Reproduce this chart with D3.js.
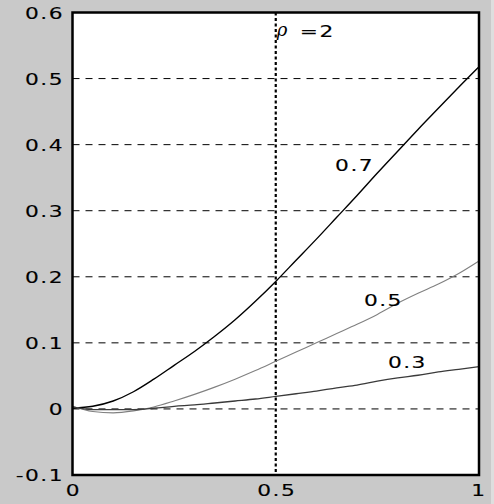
<!DOCTYPE html>
<html>
<head>
<meta charset="utf-8">
<script src="https://cdn.jsdelivr.net/npm/d3@7"></script>
<style>
  body { margin: 0; background: #c9c9c9; }
  svg { display: block; }
</style>
</head>
<body>
<div id="vis"></div>
<script>
const W = 494;
const H = 504;

// data
const xs = [0, 0.05, 0.1, 0.15, 0.2, 0.25, 0.3, 0.35, 0.4, 0.45, 0.5,
            0.55, 0.6, 0.65, 0.7, 0.75, 0.8, 0.85, 0.9, 0.95, 1];
const rho07 = [0.001, 0.004, 0.012, 0.026, 0.045, 0.066, 0.087, 0.11, 0.135, 0.163, 0.193,
               0.225, 0.257, 0.29, 0.323, 0.357, 0.39, 0.423, 0.455, 0.487, 0.518];
const rho05 = [0.004, -0.004, -0.006, -0.003, 0.003, 0.012, 0.022, 0.033, 0.045, 0.058, 0.072,
               0.086, 0.1, 0.114, 0.128, 0.143, 0.16, 0.175, 0.189, 0.205, 0.224];
const rho03 = [0.003, -0.001, -0.001, -0.001, 0.001, 0.004, 0.006, 0.009, 0.012, 0.015, 0.019,
               0.023, 0.027, 0.032, 0.036, 0.042, 0.047, 0.051, 0.056, 0.06, 0.064];
const seriesNames = ["0.7", "0.5", "0.3"];
const labelAt = [[0.646, 0.369], [0.717, 0.165], [0.776, 0.071]]; // [x, y] in data units

const yTicks = [-0.1, 0, 0.1, 0.2, 0.3, 0.4, 0.5, 0.6];
const yTickLabels = ["-0.1", "0", "0.1", "0.2", "0.3", "0.4", "0.5", "0.6"];
const xTicks = [0, 0.5, 1];
const xTickLabels = ["0", "0.5", "1"];
const rhoLine = 0.5;

const x = d3.scaleLinear().domain([0, 1]).range([72.5, 479]);
const y = d3.scaleLinear().domain([-0.1, 0.6]).range([475, 12.5]);

const svg = d3.select("#vis").append("svg").attr("width", W).attr("height", H);

svg.append("rect").attr("width", W).attr("height", H).attr("fill", "#c9c9c9");
svg.append("rect").attr("x", 491).attr("width", 3).attr("height", H).attr("fill", "#dedede");

// plot area
svg.append("rect")
  .attr("x", x(0)).attr("y", y(0.6))
  .attr("width", x(1) - x(0)).attr("height", y(-0.1) - y(0.6))
  .attr("fill", "#fff");

// dashed grid
svg.selectAll("line.grid")
  .data(yTicks.filter(d => d > -0.1 && d < 0.6))
  .join("line")
  .attr("class", "grid")
  .attr("x1", x(0)).attr("x2", x(1))
  .attr("y1", d => y(d)).attr("y2", d => y(d))
  .attr("stroke", "#000").attr("stroke-width", 1)
  .attr("stroke-dasharray", "7,6");

// dotted line at x = 0.5
svg.append("line")
  .attr("x1", x(rhoLine)).attr("x2", x(rhoLine))
  .attr("y1", y(0.6)).attr("y2", y(-0.1))
  .attr("stroke", "#000").attr("stroke-width", 2.2)
  .attr("stroke-dasharray", "3,2.5");

// curves
const series = [
  { name: seriesNames[0], values: rho07, color: "#000", width: 1.4 },
  { name: seriesNames[1], values: rho05, color: "#808080", width: 1.1 },
  { name: seriesNames[2], values: rho03, color: "#3a3a3a", width: 1.3 }
];
const line = d3.line()
  .x((d, i) => x(xs[i]))
  .y(d => y(d))
  .curve(d3.curveMonotoneX);

svg.selectAll("path.curve")
  .data(series)
  .join("path")
  .attr("class", "curve")
  .attr("d", d => line(d.values))
  .attr("fill", "none")
  .attr("stroke", d => d.color)
  .attr("stroke-width", d => d.width);

// frame
svg.append("rect")
  .attr("x", x(0)).attr("y", y(0.6))
  .attr("width", x(1) - x(0)).attr("height", y(-0.1) - y(0.6))
  .attr("fill", "none").attr("stroke", "#000").attr("stroke-width", 2.5);

// wide bitmap-like text
function wideText(px, py, str, anchor) {
  svg.append("g")
    .attr("transform", "translate(" + px + "," + py + ") scale(1.45,1)")
    .append("text")
    .attr("text-anchor", anchor)
    .attr("font-family", "DejaVu Sans")
    .attr("font-size", "15px")
    .attr("letter-spacing", "1px")
    .attr("fill", "#000")
    .attr("stroke", "#000")
    .attr("stroke-width", 0.12)
    .text(str);
}

yTicks.forEach((d, i) => wideText(64, y(d) + 6, yTickLabels[i], "end"));
xTicks.forEach((d, i) => wideText(x(d) + (i == 2 ? 0 : 1), 496, xTickLabels[i], "middle"));

series.forEach((s, i) => wideText(x(labelAt[i][0]), y(labelAt[i][1]) + 6, s.name, "start"));

// rho label
svg.append("text")
  .attr("x", x(rhoLine) + 1).attr("y", 36)
  .attr("font-family", "DejaVu Serif")
  .attr("font-style", "italic")
  .attr("font-size", "18px")
  .text("ρ");
wideText(x(rhoLine) + 24, 37, "=2", "start");
</script>
</body>
</html>
